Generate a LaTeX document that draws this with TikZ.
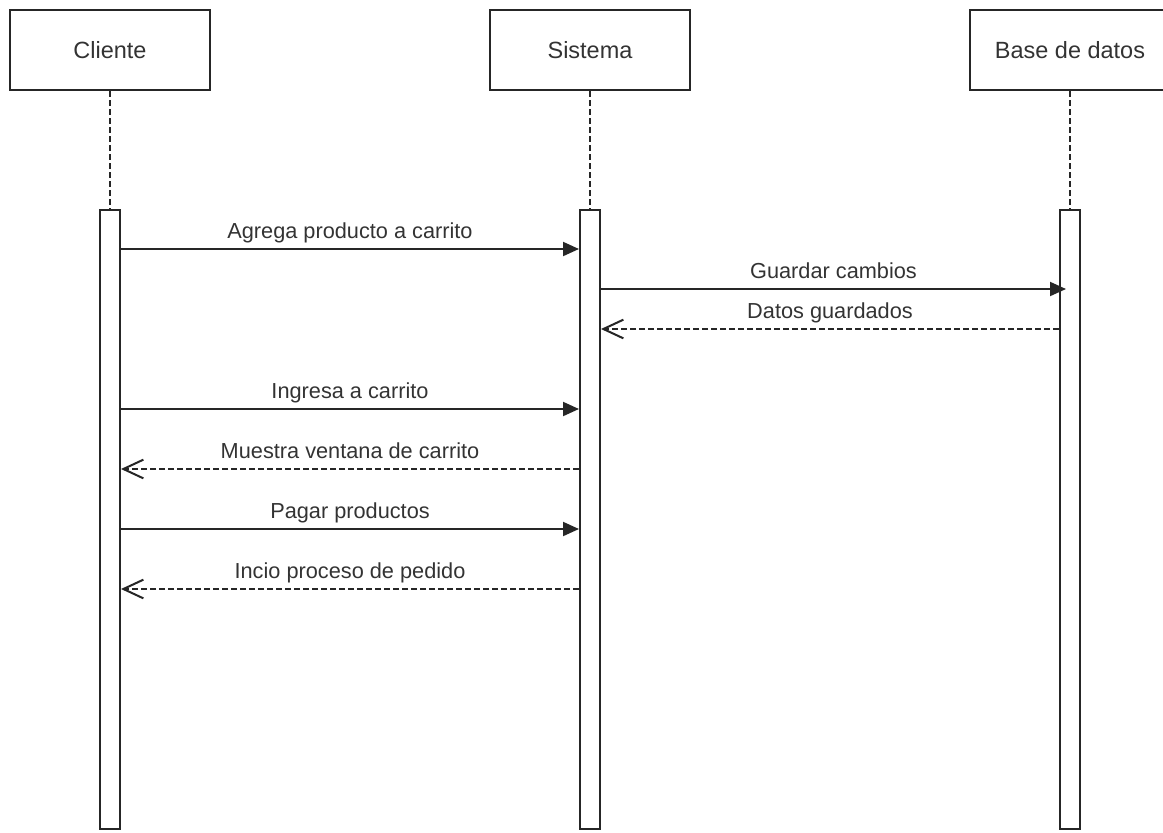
\documentclass[tikz,border=0pt]{standalone}
\usepackage{fontspec}
\setmainfont{Liberation Sans}
\usetikzlibrary{arrows.meta,calc}
\definecolor{ink}{HTML}{262626}
\definecolor{txt}{HTML}{333333}

\begin{document}
\begin{tikzpicture}[x=0.75pt,y=-0.75pt,
    font=\fontsize{16.3}{19}\selectfont,text=txt,line width=1.5pt,
    actor/.style={draw=ink,fill=white,minimum width=150pt,minimum height=60pt,inner sep=0pt,
      font=\fontsize{17.6}{20}\selectfont},
    bar/.style={draw=ink,fill=white,minimum width=15pt,minimum height=464.25pt,inner sep=0pt},
    life/.style={draw=ink,dash pattern=on 4.5pt off 2.25pt},
    call/.style={draw=ink,-{Triangle[length=12pt,width=10.5pt]}},
    reply/.style={draw=ink,dash pattern=on 4.5pt off 2.25pt,-{Straight Barb[length=15pt,width=14pt]}},
    lbl/.style={midway,anchor=base,yshift=8pt,inner sep=0pt}]
  \clip (0,0) rectangle (1163,832);
  \node[actor] (cliente) at (110,50) {Cliente};
  \node[actor] (sistema) at (590,50) {Sistema};
  \node[actor] (base) at (1070,50) {Base de datos};
  \node[bar] (barC) at (110,519.5) {};
  \node[bar] (barS) at (590,519.5) {};
  \node[bar] (barB) at (1070,519.5) {};
  \draw[life] (cliente) -- (barC);
  \draw[life] (sistema) -- (barS);
  \draw[life] (base) -- (barB);

  \draw[call] ($(barC.north east)+(0,40)$) -- node[lbl]{Agrega producto a carrito} ($(barS.north west)+(0,40)$);
  \draw[call] ($(barS.north east)+(0,80)$) -- node[lbl]{Guardar cambios} ($(barB.north west)+(7,80)$);
  \draw[reply] ($(barB.north west)+(0,120)$) -- node[lbl]{Datos guardados} ($(barS.north east)+(0,120)$);
  \draw[call] ($(barC.north east)+(0,200)$) -- node[lbl]{Ingresa a carrito} ($(barS.north west)+(0,200)$);
  \draw[reply] ($(barS.north west)+(0,260)$) -- node[lbl]{Muestra ventana de carrito} ($(barC.north east)+(0,260)$);
  \draw[call] ($(barC.north east)+(0,320)$) -- node[lbl]{Pagar productos} ($(barS.north west)+(0,320)$);
  \draw[reply] ($(barS.north west)+(0,380)$) -- node[lbl]{Incio proceso de pedido} ($(barC.north east)+(0,380)$);
\end{tikzpicture}
\end{document}
